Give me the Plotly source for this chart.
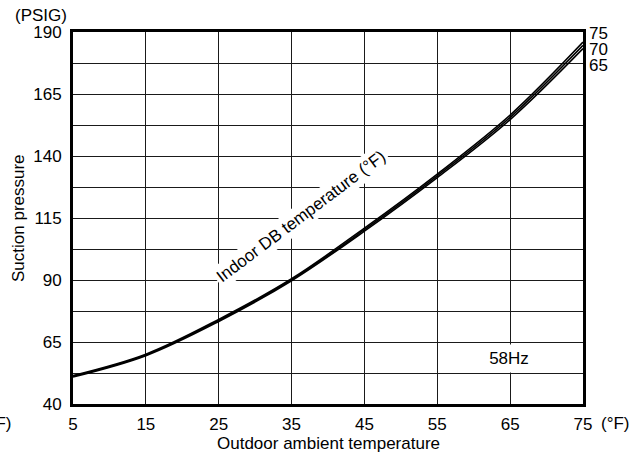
import plotly.graph_objects as go

outdoor_temp = [5, 15, 25, 35, 45, 55, 65, 75]
suction_75 = [51.5, 60.1, 74.1, 90.5, 110.9, 132.7, 156.5, 185.9]
suction_70 = [51.2, 59.8, 73.7, 90.1, 110.3, 132.0, 155.6, 184.6]
suction_65 = [50.9, 59.5, 73.3, 89.7, 109.7, 131.3, 154.7, 183.3]
series_labels = ["75", "70", "65"]
x_ticks = [5, 15, 25, 35, 45, 55, 65, 75]
y_ticks = [40, 65, 90, 115, 140, 165, 190]

FONT = "Arial, Liberation Sans, sans-serif"
FS = 17

fig = go.Figure()
for name, ys in zip(series_labels, [suction_75, suction_70, suction_65]):
    fig.add_trace(go.Scatter(x=outdoor_temp, y=ys, mode="lines", name=name,
                             line=dict(color="black", width=1.6, shape="spline", smoothing=1.0),
                             showlegend=False))

grid = "#1a1a1a"
fig.update_layout(
    width=641, height=457,
    margin=dict(l=73, r=58, t=32, b=53, autoexpand=False),
    paper_bgcolor="white", plot_bgcolor="white",
    font=dict(family=FONT, size=FS, color="black"),
    xaxis=dict(range=[5, 75], tickvals=x_ticks, showgrid=True, gridcolor=grid,
               gridwidth=1, zeroline=False, showline=True, linecolor="black",
               linewidth=3, mirror=True, ticks="", ticklabelstandoff=3,
               automargin=False, tickfont=dict(size=FS, family=FONT)),
    yaxis=dict(range=[40, 190], tickvals=y_ticks, showgrid=True, gridcolor=grid,
               gridwidth=1, zeroline=False, showline=True, linecolor="black",
               linewidth=3, mirror=True, ticks="", ticklabelstandoff=5,
               automargin=False,
               minor=dict(dtick=12.5, tick0=40, showgrid=True, gridcolor=grid, gridwidth=1),
               tickfont=dict(size=FS, family=FONT)),
)

def ann(**kw):
    base = dict(showarrow=False, font=dict(size=FS, family=FONT, color="black"))
    base.update(kw)
    fig.add_annotation(**base)

# axis titles
ann(x=0.5, xref="paper", y=0, yref="paper", text="Outdoor ambient temperature",
    xanchor="center", yanchor="middle", yshift=-39)
ann(x=0, xref="paper", y=0.5, yref="paper", text="Suction pressure", textangle=-90,
    xanchor="center", yanchor="middle", xshift=-55)

# right-hand curve labels
for i, name in enumerate(series_labels):
    ann(x=1.0, xref="paper", y=1, yref="paper", text=name,
        xanchor="left", yanchor="middle", xshift=4, yshift=-1 - 16 * i)

ann(x=0, xref="paper", y=1, yref="paper", text="(PSIG)",
    xanchor="right", yanchor="middle", xshift=-4, yshift=17)
ann(x=1, xref="paper", y=0, yref="paper", text="(°F)",
    xanchor="left", yanchor="middle", xshift=16, yshift=-19)
ann(x=0, xref="paper", y=0, yref="paper", text="(°F)",
    xanchor="right", yanchor="middle", xshift=-59, yshift=-19)
ann(x=36.3, y=115.6, text="Indoor DB temperature (°F)", textangle=-37,
    bgcolor="white", borderpad=2)
ann(x=64.9, y=58.5, text="58Hz", bgcolor="white", width=54, height=27, borderpad=0)

fig.write_html("out.html", config={"displayModeBar": False},
               post_script="document.body.style.margin='0';document.body.style.overflow='hidden';")
